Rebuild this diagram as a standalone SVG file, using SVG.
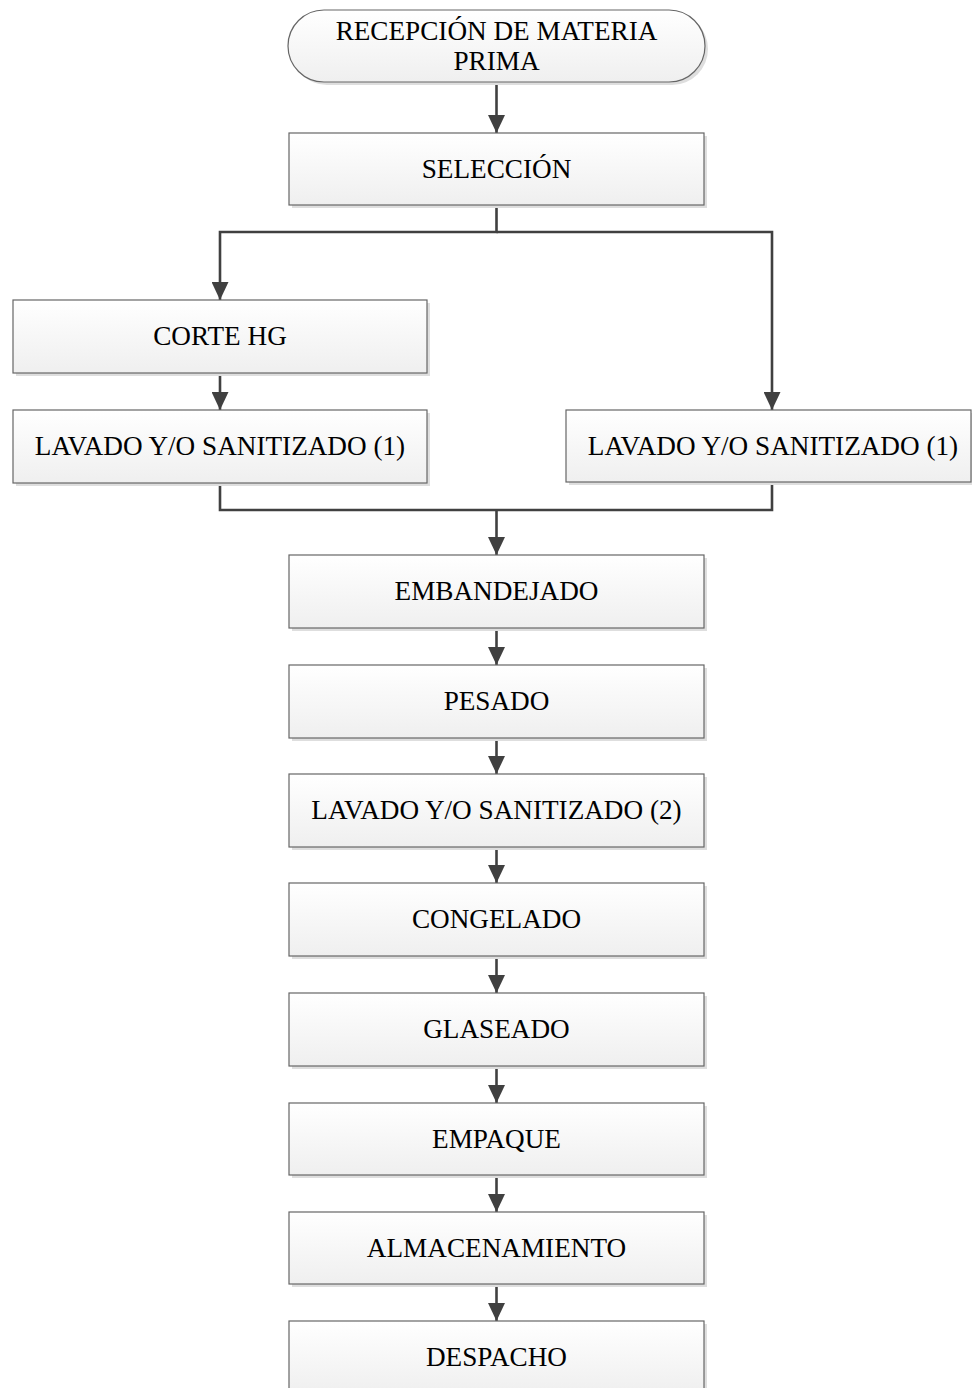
<svg xmlns="http://www.w3.org/2000/svg" width="972" height="1388" viewBox="0 0 972 1388">
  <style>
    .box { fill: url(#boxFill); stroke: #666666; stroke-width: 1.2; }
    .shadow { fill: #dedede; }
    .lbl { font-family: "Liberation Serif", "Times New Roman", serif; font-size: 27.2px; fill: #000; text-anchor: middle; }
    .conn { fill: none; stroke: #404040; stroke-width: 2.6; }
  </style>
  <defs>
    <linearGradient id="boxFill" x1="0" y1="0" x2="0" y2="1">
      <stop offset="0" stop-color="#ffffff"/>
      <stop offset="1" stop-color="#efefef"/>
    </linearGradient>
    <marker id="arrow" viewBox="0 0 18 17" refX="18" refY="8.5" markerWidth="18" markerHeight="17" markerUnits="userSpaceOnUse" orient="auto">
      <path d="M0,0 L18,8.5 L0,17 z" fill="#404040"/>
    </marker>
  </defs>

  <rect width="972" height="1388" fill="#ffffff"/>

  <!-- connectors -->
  <g id="connectors">
    <path class="conn" d="M496.5,82 V133" marker-end="url(#arrow)"/>
    <path class="conn" d="M496.5,205 V232 H220 V300" marker-end="url(#arrow)"/>
    <path class="conn" d="M496.5,232 H772 V410" marker-end="url(#arrow)"/>
    <path class="conn" d="M220,373 V410" marker-end="url(#arrow)"/>
    <path class="conn" d="M220,483 V510 H772 V482"/>
    <path class="conn" d="M496.5,510 V555" marker-end="url(#arrow)"/>
    <path class="conn" d="M496.5,628 V665" marker-end="url(#arrow)"/>
    <path class="conn" d="M496.5,738 V774" marker-end="url(#arrow)"/>
    <path class="conn" d="M496.5,847 V883" marker-end="url(#arrow)"/>
    <path class="conn" d="M496.5,956 V993" marker-end="url(#arrow)"/>
    <path class="conn" d="M496.5,1066 V1103" marker-end="url(#arrow)"/>
    <path class="conn" d="M496.5,1175 V1212" marker-end="url(#arrow)"/>
    <path class="conn" d="M496.5,1284 V1321" marker-end="url(#arrow)"/>
  </g>

  <!-- start terminal -->
  <g id="recepcion">
    <rect class="shadow" x="291" y="13" width="417" height="72" rx="36"/>
    <rect class="box" x="288" y="10" width="417" height="72" rx="36"/>
    <text class="lbl" x="496.5" y="40">RECEPCIÓN DE MATERIA</text>
    <text class="lbl" x="496.5" y="70">PRIMA</text>
  </g>

  <g id="seleccion">
    <rect class="shadow" x="292" y="136" width="415" height="72"/>
    <rect class="box" x="289" y="133" width="415" height="72"/>
    <text class="lbl" x="496.5" y="178">SELECCIÓN</text>
  </g>

  <g id="corte-hg">
    <rect class="shadow" x="16" y="303" width="414" height="73"/>
    <rect class="box" x="13" y="300" width="414" height="73"/>
    <text class="lbl" x="220" y="345">CORTE HG</text>
  </g>

  <g id="lavado-1-izq">
    <rect class="shadow" x="16" y="413" width="414" height="73"/>
    <rect class="box" x="13" y="410" width="414" height="73"/>
    <text class="lbl" x="220" y="455">LAVADO Y/O SANITIZADO (1)</text>
  </g>

  <g id="lavado-1-der">
    <rect class="shadow" x="569" y="413" width="414" height="72"/>
    <rect class="box" x="566" y="410" width="405" height="72"/>
    <text class="lbl" x="773" y="455">LAVADO Y/O SANITIZADO (1)</text>
  </g>

  <g id="embandejado">
    <rect class="shadow" x="292" y="558" width="415" height="73"/>
    <rect class="box" x="289" y="555" width="415" height="73"/>
    <text class="lbl" x="496.5" y="600">EMBANDEJADO</text>
  </g>

  <g id="pesado">
    <rect class="shadow" x="292" y="668" width="415" height="73"/>
    <rect class="box" x="289" y="665" width="415" height="73"/>
    <text class="lbl" x="496.5" y="710">PESADO</text>
  </g>

  <g id="lavado-2">
    <rect class="shadow" x="292" y="777" width="415" height="73"/>
    <rect class="box" x="289" y="774" width="415" height="73"/>
    <text class="lbl" x="496.5" y="819">LAVADO Y/O SANITIZADO (2)</text>
  </g>

  <g id="congelado">
    <rect class="shadow" x="292" y="886" width="415" height="73"/>
    <rect class="box" x="289" y="883" width="415" height="73"/>
    <text class="lbl" x="496.5" y="928">CONGELADO</text>
  </g>

  <g id="glaseado">
    <rect class="shadow" x="292" y="996" width="415" height="73"/>
    <rect class="box" x="289" y="993" width="415" height="73"/>
    <text class="lbl" x="496.5" y="1038">GLASEADO</text>
  </g>

  <g id="empaque">
    <rect class="shadow" x="292" y="1106" width="415" height="72"/>
    <rect class="box" x="289" y="1103" width="415" height="72"/>
    <text class="lbl" x="496.5" y="1148">EMPAQUE</text>
  </g>

  <g id="almacenamiento">
    <rect class="shadow" x="292" y="1215" width="415" height="72"/>
    <rect class="box" x="289" y="1212" width="415" height="72"/>
    <text class="lbl" x="496.5" y="1257">ALMACENAMIENTO</text>
  </g>

  <g id="despacho">
    <rect class="shadow" x="292" y="1324" width="415" height="73"/>
    <rect class="box" x="289" y="1321" width="415" height="73"/>
    <text class="lbl" x="496.5" y="1366">DESPACHO</text>
  </g>
</svg>
